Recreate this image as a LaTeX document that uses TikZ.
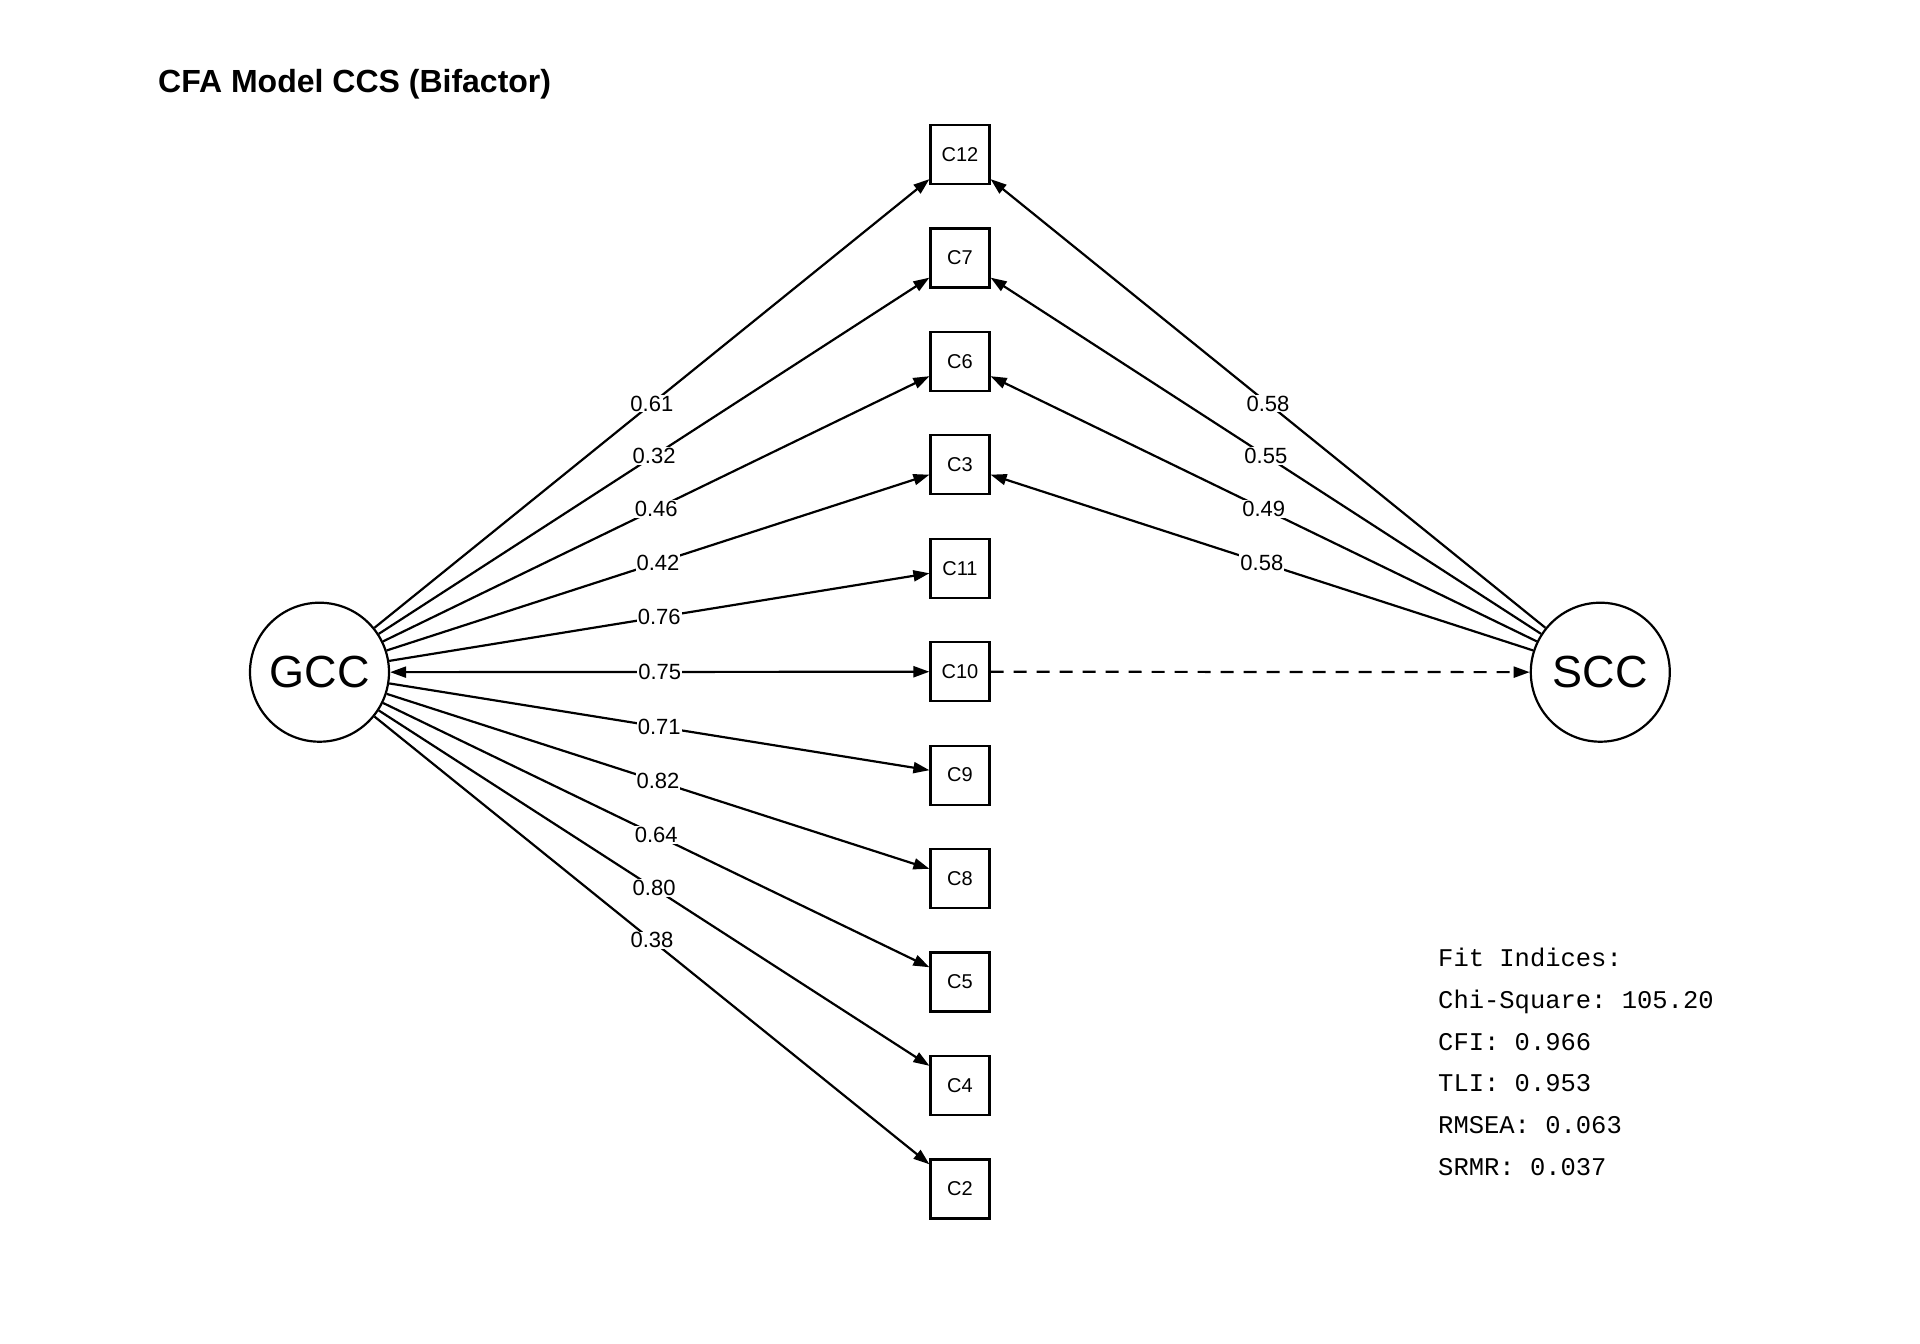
\documentclass[tikz,border=0pt]{standalone}
\usepackage{fontspec}
\setmainfont{Liberation Sans}
\newfontfamily\fitfont{Liberation Mono}
\usetikzlibrary{arrows.meta}

\begin{document}
\begin{tikzpicture}[x=1pt,y=1pt,yscale=-1,xscale=1,
  latent/.style={draw,circle,line width=2.2pt,minimum size=139pt,inner sep=0pt,font=\fontsize{45}{54}\selectfont},
  item/.style={draw,rectangle,line width=2.2pt,minimum size=59pt,inner sep=0pt,font=\fontsize{20}{24}\selectfont},
  load/.style={line width=2.2pt,-{Triangle[length=16pt,width=11pt]}},
  bothway/.style={line width=2.2pt,{Triangle[length=16pt,width=11pt]}-{Triangle[length=16pt,width=11pt]}},
  coef/.style={midway,fill=white,inner sep=1pt,font=\fontsize{22}{26}\selectfont},
  fit/.style={anchor=base west,inner sep=0pt,font=\frenchspacing\fitfont\fontsize{25.5}{30}\selectfont}]
\useasboundingbox (0,0) rectangle (1920,1344);

% Title
\node (title) [anchor=base west,inner sep=0pt,font=\bfseries\fontsize{32}{38}\selectfont] at (158,92) {CFA Model CCS (Bifactor)};

%Shape: Circle
\node (GCC) [latent] at (319.5,672.2) {GCC};
%Shape: Circle
\node (SCC) [latent] at (1600.3,672.2) {SCC};

%Shape: Square
\node (C12) [item] at (960,154.5) {C12};
\node (C7) [item] at (960,257.9) {C7};
\node (C6) [item] at (960,361.4) {C6};
\node (C3) [item] at (960,464.8) {C3};
\node (C11) [item] at (960,568.3) {C11};
\node (C10) [item] at (960,671.7) {C10};
\node (C9) [item] at (960,775.1) {C9};
\node (C8) [item] at (960,878.6) {C8};
\node (C5) [item] at (960,982.0) {C5};
\node (C4) [item] at (960,1085.5) {C4};
\node (C2) [item] at (960,1188.9) {C2};

%Straight Lines (general factor)
\draw [load] (GCC) -- (C12) node [coef] {0.61};
\draw [load] (GCC) -- (C7) node [coef] {0.32};
\draw [load] (GCC) -- (C6) node [coef] {0.46};
\draw [load] (GCC) -- (C3) node [coef] {0.42};
\draw [load] (GCC) -- (C11) node [coef] {0.76};
\draw [bothway] (GCC) -- (C10) node [coef] {0.75};
\draw [load] (GCC) -- (C9) node [coef] {0.71};
\draw [load] (GCC) -- (C8) node [coef] {0.82};
\draw [load] (GCC) -- (C5) node [coef] {0.64};
\draw [load] (GCC) -- (C4) node [coef] {0.80};
\draw [load] (GCC) -- (C2) node [coef] {0.38};

%Straight Lines (specific factor)
\draw [load] (SCC) -- (C12) node [coef] {0.58};
\draw [load] (SCC) -- (C7) node [coef] {0.55};
\draw [load] (SCC) -- (C6) node [coef] {0.49};
\draw [load] (SCC) -- (C3) node [coef] {0.58};
\draw [load,dash pattern=on 13pt off 10pt] (C10) -- (SCC);

% Text Node
\node (fit0) [fit] at (1438,966.7) {Fit Indices:};
\node (fit1) [fit] at (1438,1008.4) {Chi-Square: 105.20};
\node (fit2) [fit] at (1438,1050.1) {CFI: 0.966};
\node (fit3) [fit] at (1438,1091.8) {TLI: 0.953};
\node (fit4) [fit] at (1438,1133.5) {RMSEA: 0.063};
\node (fit5) [fit] at (1438,1175.2) {SRMR: 0.037};
\end{tikzpicture}
\end{document}
